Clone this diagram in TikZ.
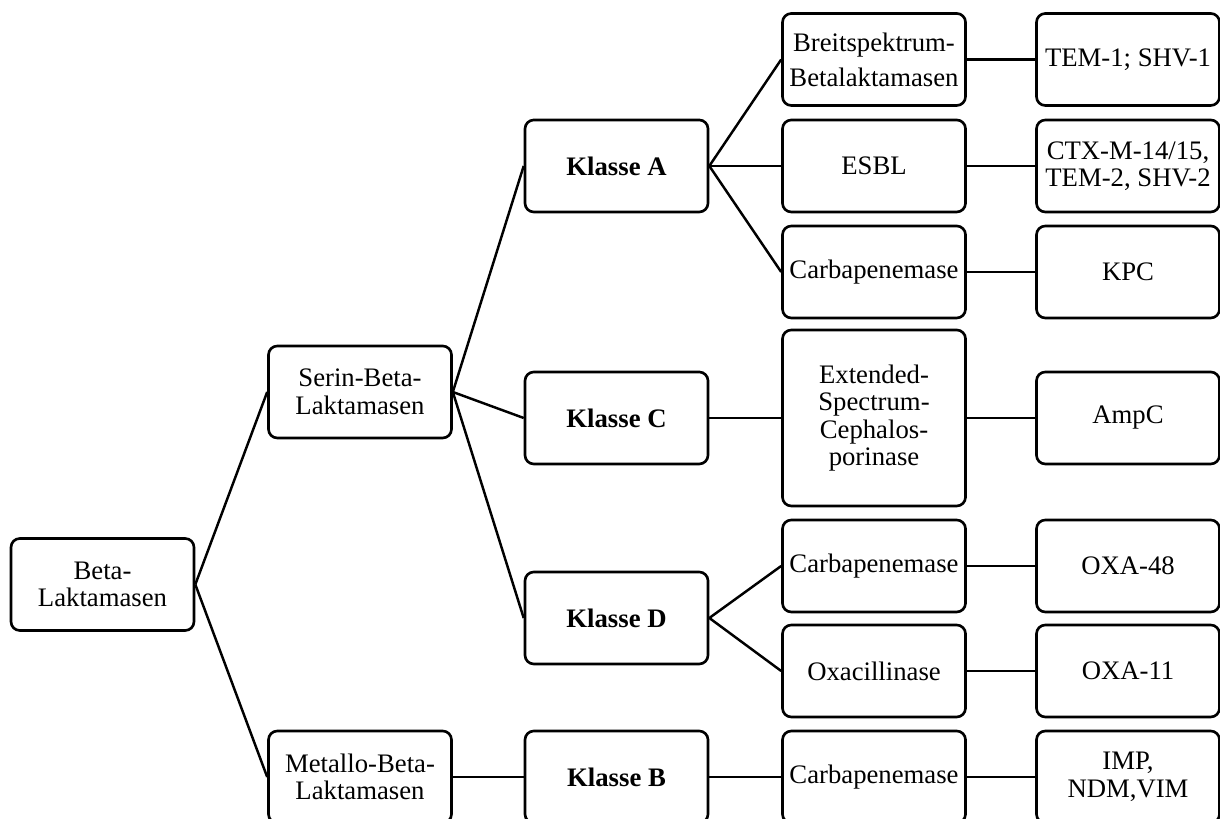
\documentclass[tikz,border=0pt]{standalone}
\usepackage{fontspec}
\setmainfont{Liberation Serif}

\begin{document}
\begin{tikzpicture}[
  box/.style={draw,line width=1.5pt,rounded corners=5pt,minimum width=3.66cm,minimum height=1.84cm,
    align=center,inner sep=2pt,font=\fontsize{15.2}{15.6}\selectfont},
  tallbox/.style={box,minimum height=3.52cm},
  link/.style={line width=1.4pt}]
\useasboundingbox (0,0) rectangle (24.4,16.38);
% Root
\node[box] (beta) at (2.05,4.69) {Beta-\\Laktamasen};
% Groups
\node[box] (serin) at (7.2,8.54) {Serin-Beta-\\Laktamasen};
\node[box] (metallo) at (7.2,0.84) {Metallo-Beta-\\Laktamasen};
% Classes
\node[box] (klA) at (12.33,13.06) {\textbf{Klasse A}};
\node[box] (klC) at (12.33,8.02) {\textbf{Klasse C}};
\node[box] (klD) at (12.33,4.02) {\textbf{Klasse D}};
\node[box] (klB) at (12.33,0.84) {\textbf{Klasse B}};
% Enzyme types
\node[box] (breit) at (17.48,15.19) {Breitspektrum-\\[4.3pt]Betalaktamasen};
\node[box] (esbl) at (17.48,13.06) {ESBL};
\node[box] (carbA) at (17.48,10.94) {Carbapenemase};
\node[tallbox] (ext) at (17.48,8.02) {Extended-\\Spectrum-\\Cephalos-\\porinase};
\node[box] (carbD) at (17.48,5.06) {Carbapenemase};
\node[box] (oxa) at (17.48,2.96) {Oxacillinase};
\node[box] (carbB) at (17.48,0.84) {Carbapenemase};
% Examples
\node[box] (tem) at (22.56,15.19) {TEM-1; SHV-1};
\node[box] (ctx) at (22.56,13.06) {CTX-M-14/15,\\TEM-2, SHV-2};
\node[box] (kpc) at (22.56,10.94) {KPC};
\node[box] (ampc) at (22.56,8.02) {AmpC};
\node[box] (oxa48) at (22.56,5.06) {OXA-48};
\node[box] (oxa11) at (22.56,2.96) {OXA-11};
\node[box] (imp) at (22.56,0.84) {IMP,\\NDM,VIM};
% Connectors
\draw[link] (beta.east) -- (serin.west);
\draw[link] (beta.east) -- (metallo.west);
\draw[link] (serin.east) -- (klA.west);
\draw[link] (serin.east) -- (klC.west);
\draw[link] (serin.east) -- (klD.west);
\draw[link] (metallo.east) -- (klB.west);
\draw[link] (klA.east) -- (breit.west);
\draw[link] (klA.east) -- (esbl.west);
\draw[link] (klA.east) -- (carbA.west);
\draw[link] (klC.east) -- (ext.west);
\draw[link] (klD.east) -- (carbD.west);
\draw[link] (klD.east) -- (oxa.west);
\draw[link] (klB.east) -- (carbB.west);
\draw[link] (breit.east) -- (tem.west);
\draw[link] (esbl.east) -- (ctx.west);
\draw[link] (carbA.east) -- (kpc.west);
\draw[link] (ext.east) -- (ampc.west);
\draw[link] (carbD.east) -- (oxa48.west);
\draw[link] (oxa.east) -- (oxa11.west);
\draw[link] (carbB.east) -- (imp.west);
\end{tikzpicture}
\end{document}
